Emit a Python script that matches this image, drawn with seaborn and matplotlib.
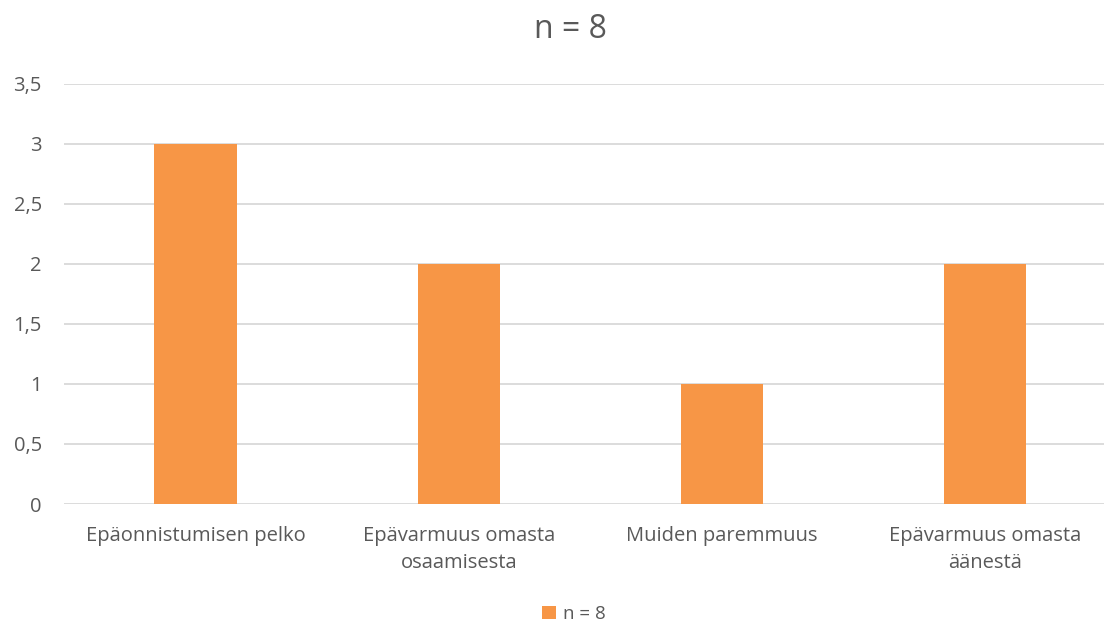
import matplotlib
matplotlib.use("Agg")
import matplotlib.pyplot as plt
import seaborn as sns
import pandas as pd
from matplotlib.patches import Patch

categories = ["Epäonnistumisen pelko", "Epävarmuus omasta\nosaamisesta",
              "Muiden paremmuus", "Epävarmuus omasta\näänestä"]
values = [3, 2, 1, 2]
series_name = "n = 8"
yticks = [0, 0.5, 1, 1.5, 2, 2.5, 3, 3.5]
ytick_labels = ["0", "0,5", "1", "1,5", "2", "2,5", "3", "3,5"]

sns.set_theme(style="white")
plt.rcParams['font.family'] = ['Open Sans', 'DejaVu Sans']

df = pd.DataFrame({"cat": categories, "val": values})

fig = plt.figure(figsize=(11.04, 6.25), dpi=100)
ax = fig.add_axes([64/1104, 121/625, 1052.6/1104, 420.5/625])
sns.barplot(data=df, x="cat", y="val", color="#F79646", width=0.313,
            saturation=1, linewidth=0, edgecolor="none", ax=ax, zorder=3)
ax.set_ylim(0, 3.5)
ax.set_xlim(-0.5, 3.5)
ax.set_yticks(yticks)
ax.set_yticklabels(ytick_labels)
ax.grid(axis="y", color="#D9D9D9", linewidth=1.3, zorder=0)
ax.set_axisbelow(True)
for s in ax.spines.values():
    s.set_visible(False)
ax.set_xlabel("")
ax.set_ylabel("")
ax.tick_params(axis="y", length=0, pad=16, labelsize=14.5, labelcolor="#595959")
ax.tick_params(axis="x", length=0, pad=16, labelsize=14.5, labelcolor="#595959")
for lab in ax.get_xticklabels():
    lab.set_linespacing(1.45)

fig.text(570/1104, 1 - 30/625, series_name, ha="center", va="center",
         fontsize=23, color="#595959")

handles = [Patch(facecolor="#F79646", edgecolor="none", label=series_name)]
fig.legend(handles=handles, loc="center", bbox_to_anchor=(574/1104, 1 - 614/625),
           frameon=False, fontsize=13.5, labelcolor="#595959",
           handlelength=0.75, handleheight=0.75, handletextpad=0.4,
           borderpad=0.2)

fig.savefig("out.png", dpi=100)
